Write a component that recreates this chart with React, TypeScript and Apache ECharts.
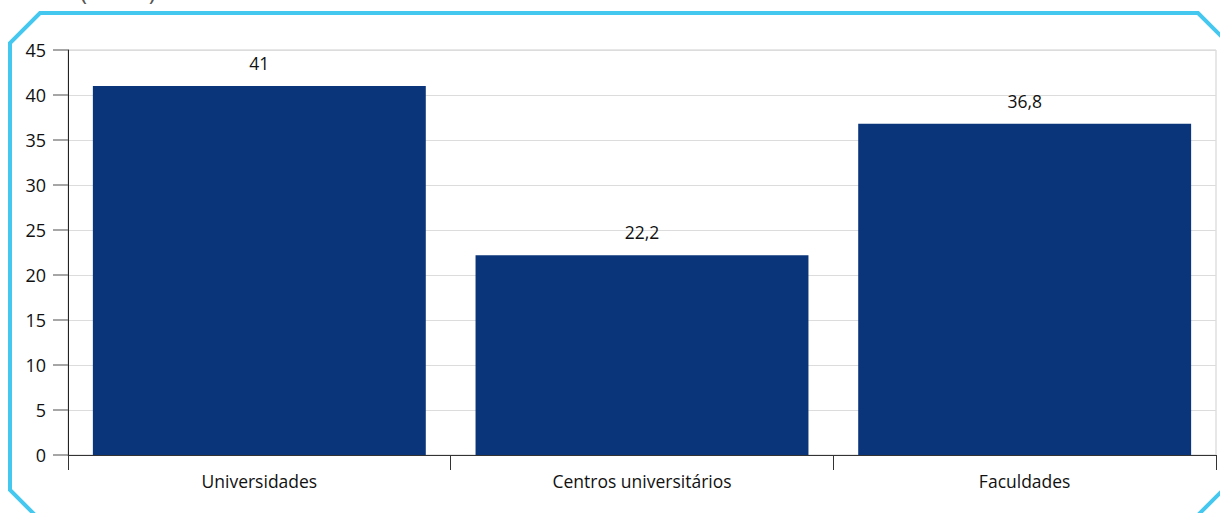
import React, { useEffect, useRef } from "react";
import * as echarts from "echarts";

const categories = ["Universidades", "Centros universitários", "Faculdades"];
const values = [41, 22.2, 36.8];
const valueLabels = ["41", "22,2", "36,8"];
const yTicks = [0, 5, 10, 15, 20, 25, 30, 35, 40, 45];

const FONT = "'Open Sans', 'Noto Sans', sans-serif";

export default function App() {
  const ref = useRef<HTMLDivElement>(null);
  useEffect(() => {
    if (!ref.current) return;
    const chart = echarts.init(ref.current, null, { renderer: "svg" });
    chart.setOption({
      animation: false,
      backgroundColor: "#ffffff",
      textStyle: { fontFamily: FONT },
      grid: {
        left: 68,
        right: 4,
        top: 50,
        bottom: 58,
        show: true,
        borderColor: "#cfcfcf",
        borderWidth: 1,
      },
      xAxis: {
        type: "category",
        data: categories,
        axisLine: { lineStyle: { color: "#333333", width: 1 } },
        axisTick: { show: true, length: 15, alignWithLabel: false, lineStyle: { color: "#333333" } },
        axisLabel: { color: "#111111", fontSize: 17.5, margin: 17, fontFamily: FONT },
        splitLine: { show: false },
      },
      yAxis: {
        type: "value",
        min: yTicks[0],
        max: yTicks[yTicks.length - 1],
        interval: 5,
        axisLine: { show: true, lineStyle: { color: "#222222", width: 1 } },
        axisTick: { show: true, length: 15, lineStyle: { color: "#888888", width: 1.5 } },
        axisLabel: { color: "#111111", fontSize: 18, margin: 22, fontFamily: FONT },
        splitLine: { show: true, lineStyle: { color: "#dcdcdc", width: 1 } },
      },
      series: [
        {
          type: "bar",
          data: values,
          barCategoryGap: "13%",
          itemStyle: { color: "#0b357a" },
          label: {
            show: true,
            position: "top",
            distance: 14,
            color: "#111111",
            fontSize: 17.5,
            fontFamily: FONT,
            formatter: (p: any) => valueLabels[p.dataIndex],
          },
        },
      ],
      graphic: [
        {
          type: "polygon",
          shape: {
            points: [
              [40, 13],
              [1198, 13],
              [1250, 65],
              [1250, 463],
              [1190, 523],
              [43, 523],
              [10, 490],
              [10, 43],
            ],
          },
          style: { fill: "none", stroke: "#45c8f0", lineWidth: 4 },
          silent: true,
        },
        {
          type: "text",
          left: 80,
          top: -22,
          style: { text: "(em %)", fontSize: 24, fill: "#555555", fontFamily: FONT },
          silent: true,
        },
      ],
    });
    return () => chart.dispose();
  }, []);
  return (
    <div
      ref={ref}
      style={{ position: "fixed", left: 0, top: 0, width: 1220, height: 513 }}
    />
  );
}
